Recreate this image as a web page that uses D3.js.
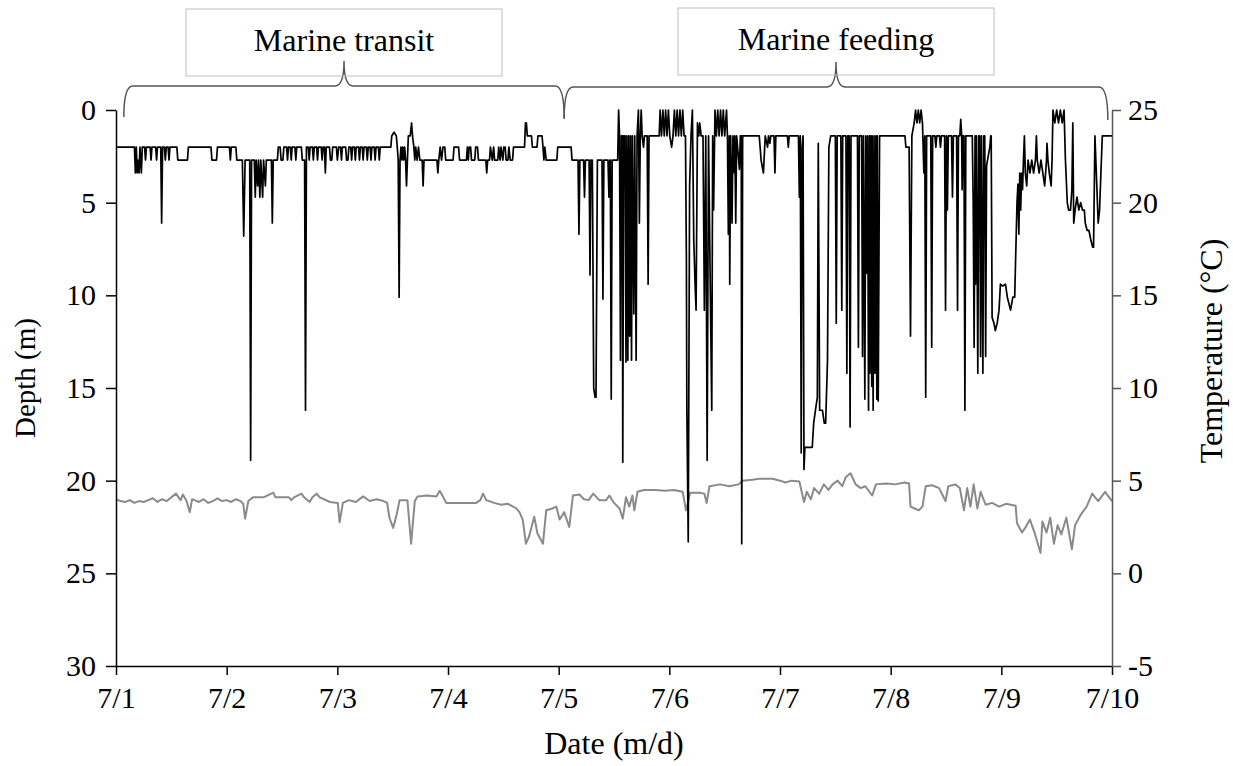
<!DOCTYPE html>
<html lang="en">
<head>
<meta charset="UTF-8">
<title>Depth and temperature, 7/1 - 7/10</title>
<script src="https://d3js.org/d3.v7.min.js"></script>
<style>
    body {
        margin: 0;
        background: white;
    }

    svg text {
        font-family: "Liberation Serif", "Times New Roman", serif;
        fill: #000;
    }

    .tick text {
        font-size: 30px;
    }

    .axis-label {
        font-size: 29px;
    }

    .phase-label {
        font-size: 32px;
    }
</style>
</head>
<body>
<svg id="chart" width="1233" height="766"></svg>
<script>
    // Hours since 7/1 00:00, and the labels of the daily ticks
    const dateTicks = [0, 24, 48, 72, 96, 120, 144, 168, 192, 216];
    const dateLabels = ["7/1", "7/2", "7/3", "7/4", "7/5", "7/6", "7/7", "7/8", "7/9", "7/10"];
    const depthTicks = [0, 5, 10, 15, 20, 25, 30];
    const tempTicks = [-5, 0, 5, 10, 15, 20, 25];

    // Behavioural phases: [label, start hour, end hour]
    const phases = [
        ["Marine transit", 1.7, 97.2],
        ["Marine feeding", 97.2, 215.1]
    ];

    // Swimming depth (m): [hour, depth]
    const depthSeries = [
        [0, 2.0], [4.0, 2.0], [4.2, 3.4], [4.4, 2.0], [4.6, 3.4], [4.8, 2.7], [5.0, 3.4], [5.2, 2.0], [5.5, 3.4], [5.7, 2.0],
        [6.2, 2.0], [6.4, 2.7], [6.6, 2.0], [7.4, 2.0], [7.6, 2.7], [7.8, 2.0], [8.6, 2.0], [8.8, 2.7], [9.0, 2.0],
        [9.7, 2.0], [9.9, 6.1], [10.1, 2.0], [10.5, 2.0], [10.7, 2.7], [10.9, 2.0], [11.3, 2.0], [11.5, 2.7], [11.7, 2.0],
        [13.2, 2.0], [13.4, 2.7], [15.5, 2.7], [15.7, 2.0], [20.6, 2.0], [20.8, 2.7], [21.8, 2.7], [22.0, 2.0],
        [24.6, 2.0], [24.8, 2.7], [25.0, 2.0], [26.0, 2.0], [26.2, 2.7], [27.4, 2.7], [27.7, 6.8], [28.0, 2.7],
        [29.0, 2.7], [29.2, 18.9], [29.4, 2.7], [30.0, 2.7], [30.2, 4.7], [30.4, 2.7], [30.7, 4.1], [30.9, 2.7],
        [31.2, 4.7], [31.4, 2.7], [31.8, 4.7], [32.0, 2.7], [32.4, 4.1], [32.6, 2.7], [33.7, 2.7], [33.9, 6.1], [34.1, 2.7],
        [35.0, 2.7], [35.2, 2.0], [35.6, 2.0], [35.8, 2.7], [36.2, 2.7], [36.4, 2.0], [37.0, 2.0], [37.2, 2.7], [37.4, 2.0],
        [37.8, 2.0], [38.0, 2.7], [38.2, 2.0], [38.8, 2.0], [39.0, 2.7], [39.2, 2.0], [40.2, 2.0], [40.4, 2.7], [40.9, 2.7],
        [41.1, 16.2], [41.3, 2.0], [41.7, 2.0], [41.9, 2.7], [42.1, 2.0], [42.6, 2.0], [42.8, 2.7], [43.0, 2.0],
        [43.5, 2.0], [43.7, 2.7], [43.9, 2.0], [44.5, 2.0], [44.7, 2.7], [44.9, 2.0], [45.2, 2.0], [45.4, 3.4], [45.6, 2.0],
        [46.3, 2.0], [46.5, 2.7], [46.8, 2.7], [47.0, 2.0], [47.8, 2.0], [48.0, 2.7], [48.3, 2.0], [48.7, 2.0], [48.9, 2.7],
        [49.1, 2.0], [49.8, 2.0], [50.0, 2.7], [50.3, 2.7], [50.5, 2.0], [50.9, 2.0], [51.1, 2.7], [51.3, 2.0], [51.7, 2.0],
        [51.9, 2.7], [52.1, 2.0], [52.6, 2.0], [52.8, 2.7], [53.0, 2.0], [53.4, 2.0], [53.6, 2.7], [53.8, 2.0], [54.3, 2.0],
        [54.5, 2.7], [54.7, 2.0], [55.1, 2.0], [55.3, 2.7], [55.5, 2.0], [56.0, 2.0], [56.2, 2.7], [56.4, 2.0], [56.9, 2.0],
        [57.1, 2.7], [57.3, 2.0], [59.6, 2.0], [59.8, 1.4], [60.3, 1.2], [60.8, 1.4], [61.0, 2.0], [61.2, 2.7], [61.4, 10.1],
        [61.6, 2.7], [61.8, 2.0], [62.0, 2.7], [62.2, 2.0], [62.4, 2.7], [62.6, 2.0], [62.8, 2.7], [63.0, 4.1], [63.2, 2.7],
        [63.4, 1.4], [63.8, 1.4], [64.1, 0.7], [64.3, 1.4], [64.6, 2.0], [64.8, 2.7], [65.0, 2.0], [65.3, 2.7], [65.6, 2.0],
        [65.9, 2.7], [66.4, 2.7], [66.6, 4.1], [66.8, 2.7], [69.6, 2.7], [69.8, 3.4], [70.0, 2.7], [70.3, 2.0], [70.6, 2.7],
        [70.9, 2.0], [71.3, 2.0], [71.5, 2.7], [73.1, 2.7], [73.3, 2.0], [74.3, 2.0], [74.5, 2.7], [76.0, 2.7], [76.2, 2.0],
        [76.4, 2.7], [76.6, 2.0], [76.9, 2.0], [77.1, 2.7], [77.8, 2.7], [78.0, 2.0], [78.4, 2.0], [78.6, 2.7], [80.2, 2.7],
        [80.4, 3.4], [80.6, 2.7], [81.0, 2.7], [81.2, 2.0], [81.6, 2.7], [81.9, 2.0], [82.1, 2.7], [82.8, 2.7], [83.0, 2.0],
        [83.3, 2.7], [83.5, 2.0], [83.9, 2.7], [84.1, 2.0], [84.4, 2.0], [84.6, 2.7], [85.0, 2.7], [85.2, 2.0], [85.5, 2.7],
        [86.0, 2.7], [86.2, 2.0], [88.6, 2.0], [88.8, 0.7], [89.0, 0.7], [89.2, 1.4], [90.1, 1.4], [90.3, 2.0], [91.3, 2.0],
        [91.5, 1.4], [92.4, 1.4], [92.6, 2.0], [92.8, 2.7], [93.0, 2.0], [93.3, 2.7], [95.6, 2.7], [95.8, 2.0], [98.7, 2.0],
        [98.9, 2.7], [100.2, 2.7], [100.4, 6.7], [100.6, 2.7], [101.4, 2.7], [101.6, 4.7], [101.8, 2.7], [102.6, 2.7],
        [102.8, 8.9], [103.0, 2.7], [103.3, 2.7], [103.6, 15.0], [103.9, 15.5], [104.1, 15.5], [104.4, 2.7], [105.4, 2.7],
        [105.6, 10.2], [105.8, 2.7], [106.7, 2.7], [106.9, 4.7], [107.1, 2.7], [107.2, 2.7], [107.4, 15.6], [107.6, 2.7],
        [108.8, 2.7], [109.0, 0], [109.2, 1.4], [109.4, 13.5], [109.6, 1.4], [109.8, 1.4], [109.9, 19.0], [110.1, 1.4],
        [110.4, 1.4], [110.6, 13.6], [110.8, 1.4], [111.0, 13.5], [111.2, 1.4], [111.4, 12.2], [111.6, 1.4], [111.8, 13.5],
        [112.0, 1.4], [112.3, 11.0], [112.5, 1.4], [112.8, 13.5], [113.0, 1.4], [113.3, 0], [113.5, 6.1], [113.7, 1.4],
        [113.9, 0], [114.1, 1.4], [114.4, 2.0], [114.6, 1.4], [115.2, 1.4], [115.4, 9.4], [115.6, 1.4], [117.8, 1.4],
        [118.0, 0], [118.3, 1.4], [118.6, 0], [118.9, 1.4], [119.2, 0], [119.5, 1.4], [119.8, 0], [120.1, 1.4], [120.5, 2.0],
        [120.8, 1.4], [121.1, 0], [121.4, 1.4], [121.7, 0], [122.0, 1.4], [122.3, 0], [122.6, 1.4], [122.9, 0], [123.2, 1.4],
        [123.5, 1.4], [123.7, 8.1], [123.8, 16.2], [124.1, 23.3], [124.4, 4.1], [124.7, 1.4], [125.0, 0], [125.3, 7.0],
        [125.6, 9.5], [125.8, 10.8], [126.1, 0.7], [126.4, 1.4], [126.6, 0.7], [126.9, 1.4], [127.3, 1.4], [127.6, 10.8],
        [127.9, 1.4], [128.2, 18.9], [128.5, 1.4], [128.9, 10.0], [129.2, 16.2], [129.4, 1.4], [129.6, 5.4], [129.9, 0],
        [130.2, 1.4], [130.5, 0], [130.8, 1.4], [131.1, 0], [131.4, 1.4], [131.7, 0], [132.0, 1.4], [132.4, 0], [132.6, 1.4],
        [132.8, 6.7], [133.0, 1.4], [133.1, 9.4], [133.3, 1.4], [133.6, 6.1], [133.8, 1.4], [134.1, 3.4], [134.2, 1.4],
        [134.4, 6.1], [134.6, 1.4], [135.2, 3.2], [135.4, 1.4], [135.6, 1.4], [135.7, 23.4], [135.9, 1.4], [139.5, 1.4],
        [139.9, 2.7], [140.4, 3.4], [140.8, 1.4], [141.3, 2.0], [141.5, 1.4], [141.8, 1.8], [142.0, 1.4], [142.7, 1.4],
        [142.9, 3.4], [143.1, 1.4], [145.6, 1.4], [145.8, 2.0], [146.0, 1.4], [148.0, 1.4], [148.2, 4.7], [148.4, 1.4],
        [148.6, 18.5], [148.8, 2.0], [149.0, 1.4], [149.2, 19.4], [149.4, 18.2], [151.0, 18.2], [151.3, 16.9], [151.8, 16.0],
        [152.1, 15.5], [152.3, 1.8], [152.6, 16.2], [153.2, 16.2], [153.6, 16.9], [153.9, 16.9], [154.3, 13.5], [154.6, 2.0],
        [155.0, 1.4], [156.0, 1.4], [156.2, 11.5], [156.4, 1.4], [157.2, 1.4], [157.4, 10.8], [157.6, 1.4], [158.3, 1.4],
        [158.5, 14.2], [158.7, 1.4], [159.0, 1.4], [159.2, 17.1], [159.4, 1.4], [160.8, 1.4], [161.0, 12.8], [161.2, 1.4],
        [161.7, 1.4], [161.9, 13.3], [162.1, 1.4], [162.4, 15.6], [162.6, 1.4], [162.8, 8.8], [163.0, 1.4], [163.2, 16.2],
        [163.4, 1.4], [163.5, 14.2], [163.7, 1.4], [163.9, 14.9], [164.0, 1.4], [164.2, 16.2], [164.4, 1.4], [164.6, 14.2],
        [164.8, 1.4], [165.0, 15.6], [165.1, 1.4], [165.3, 15.7], [165.6, 1.4], [171.1, 1.4], [171.3, 2.0], [172.0, 2.0],
        [172.3, 12.2], [172.6, 1.4], [173.1, 0.7], [173.4, 0], [173.7, 0.7], [174.0, 0], [174.3, 0.7], [174.6, 0], [174.9, 0.7],
        [175.2, 3.4], [175.4, 1.4], [175.6, 15.5], [175.8, 1.4], [176.7, 1.4], [176.9, 12.8], [177.1, 1.4], [177.6, 1.4],
        [177.8, 2.0], [178.0, 1.4], [178.6, 1.4], [178.8, 2.0], [179.0, 1.4], [179.7, 1.4], [179.9, 10.8], [180.1, 1.4],
        [180.3, 5.4], [180.5, 1.4], [181.2, 1.4], [181.4, 4.7], [181.6, 1.4], [182.3, 1.4], [182.5, 10.8], [182.7, 1.4],
        [183.0, 1.4], [183.2, 0.5], [183.4, 1.4], [183.5, 4.3], [183.7, 1.4], [183.9, 1.4], [184.1, 16.2], [184.3, 1.4],
        [185.7, 1.4], [185.9, 5.0], [186.1, 12.8], [186.3, 1.4], [186.4, 9.4], [186.6, 1.4], [186.9, 14.2], [187.1, 1.4],
        [187.3, 1.4], [187.5, 13.3], [187.7, 1.4], [188.0, 14.2], [188.2, 1.4], [188.4, 1.4], [188.6, 13.3], [188.8, 3.0],
        [189.5, 2.0], [189.7, 1.4], [189.8, 1.4], [190.0, 11.2], [190.4, 11.5], [190.7, 11.9], [191.1, 11.5], [191.5, 10.8],
        [191.8, 9.4], [192.3, 9.5], [192.9, 9.4], [193.3, 10.1], [194.0, 10.8], [194.5, 10.1], [194.9, 10.1], [195.1, 8.0],
        [195.4, 5.0], [195.6, 4.0], [195.8, 6.7], [196.0, 3.4], [196.2, 5.4], [196.4, 3.4], [196.6, 4.3], [196.8, 2.7],
        [197.0, 1.4], [197.2, 3.4], [197.5, 4.1], [197.8, 2.7], [198.2, 3.4], [198.6, 2.7], [199.0, 3.4], [199.4, 2.7],
        [199.6, 1.4], [199.8, 2.7], [200.2, 3.4], [200.6, 2.7], [201.0, 3.4], [201.4, 4.1], [201.8, 2.7], [201.9, 1.8],
        [202.1, 2.7], [202.4, 3.4], [202.8, 4.1], [203.0, 2.7], [203.2, 0], [203.6, 0.7], [204.0, 0], [204.4, 0.7], [204.8, 0],
        [205.2, 0.7], [205.6, 0], [205.9, 2.7], [206.3, 5.0], [206.6, 5.4], [207.0, 5.4], [207.3, 4.3], [207.5, 0.7],
        [207.7, 6.1], [208.0, 5.4], [208.4, 4.7], [208.8, 5.4], [209.2, 5.0], [209.6, 5.4], [210.0, 5.4], [210.2, 6.1],
        [210.6, 6.5], [211.0, 6.5], [211.4, 7.0], [211.8, 7.4], [212.0, 7.4], [212.3, 1.4], [212.6, 3.4], [213.0, 6.1],
        [213.3, 5.4], [213.7, 2.7], [213.9, 1.4], [216, 1.4]
    ];

    // Water temperature (°C): [hour, temperature]
    const tempSeries = [
        [0, 4.0], [1, 3.9], [2, 3.85], [3, 3.95], [4, 3.8], [5, 3.9], [6, 3.85], [7, 3.95], [8, 4.05], [9, 3.85],
        [10, 4.0], [11, 3.9], [12, 4.1], [13, 4.3], [14, 3.95], [14.5, 4.25], [15.3, 3.9], [16.0, 3.3], [16.5, 4.0],
        [17, 3.95], [18, 3.85], [19, 4.0], [20, 3.8], [21, 3.9], [22, 4.05], [23, 3.9], [24, 3.95], [25, 3.85], [26, 4.0],
        [27, 3.9], [27.6, 3.75], [28.0, 2.95], [28.7, 3.9], [29.7, 4.1], [32, 4.1], [34.1, 4.35], [34.6, 4.1], [37.5, 4.1],
        [38.0, 3.95], [38.6, 4.1], [40.2, 4.3], [40.8, 4.1], [42.0, 3.85], [42.6, 4.1], [43.5, 4.3], [44.2, 4.1],
        [46.4, 3.85], [48.1, 3.8], [48.5, 2.75], [49.2, 3.8], [50.5, 3.95], [52.0, 3.85], [53.6, 4.15], [55.0, 3.9],
        [56.5, 4.0], [58.0, 3.9], [58.8, 3.8], [59.3, 3.0], [60.1, 2.45], [60.8, 3.1], [61.5, 3.95], [63.2, 3.95],
        [64.0, 1.6], [64.8, 3.9], [65.4, 4.15], [67.5, 4.2], [69.5, 4.15], [70.2, 4.45], [71.0, 4.1], [71.6, 3.8],
        [78.1, 3.8], [79.0, 3.95], [79.6, 4.3], [80.3, 3.95], [82.0, 3.8], [83.5, 3.7], [85.0, 3.75], [86.8, 3.5],
        [87.5, 3.3], [88.2, 2.9], [88.9, 1.6], [89.6, 2.0], [90.7, 3.05], [91.4, 2.15], [92.6, 1.6], [93.3, 3.4],
        [94.6, 3.5], [95.5, 3.6], [96.2, 2.9], [97.2, 3.3], [98.3, 2.5], [99.1, 4.2], [100.5, 4.25], [101.5, 4.0],
        [102.5, 3.95], [103.5, 4.3], [104.8, 3.95], [106.3, 3.95], [107.0, 4.2], [108.0, 3.8], [109.2, 3.5],
        [109.9, 2.95], [110.6, 4.1], [111.3, 3.6], [112.0, 4.2], [112.4, 3.4], [113.1, 4.4], [114.5, 4.5], [117.0, 4.5],
        [119.0, 4.45], [121.0, 4.5], [122.9, 4.4], [123.6, 3.4], [124.0, 3.8], [124.5, 4.35], [126.5, 4.35], [127.6, 4.3],
        [128.1, 3.8], [128.7, 4.7], [131.0, 4.8], [133.0, 4.7], [135.0, 4.8], [135.9, 5.0], [138.0, 5.05], [139.5, 5.1],
        [142.4, 5.1], [144.0, 5.0], [145.2, 4.9], [146.5, 5.0], [148.2, 4.95], [149.2, 3.85], [149.8, 4.4], [150.7, 4.0],
        [151.4, 4.6], [152.5, 4.3], [153.5, 4.8], [154.5, 4.5], [155.4, 4.8], [156.5, 5.0], [157.5, 4.7], [158.3, 5.2],
        [159.3, 5.4], [160.4, 4.8], [161.5, 4.6], [162.5, 4.7], [164.0, 4.2], [164.8, 4.8], [167.0, 4.85], [169.0, 4.8],
        [171.0, 4.9], [172.0, 4.85], [172.3, 3.6], [173.2, 3.5], [174.1, 3.4], [174.9, 3.6], [175.6, 4.7], [177.0, 4.75],
        [178.5, 4.6], [179.9, 3.9], [180.5, 4.7], [182.0, 4.8], [183.0, 4.6], [183.9, 3.4], [184.6, 4.6], [185.3, 3.6],
        [186.0, 4.8], [186.8, 3.5], [187.5, 4.4], [188.6, 3.7], [190.0, 3.8], [191.5, 3.6], [193.0, 3.75], [195.1, 3.65],
        [195.4, 2.7], [196.5, 2.2], [197.3, 2.5], [198.2, 2.9], [199.2, 2.2], [200.5, 1.1], [200.9, 2.8], [201.8, 2.2],
        [202.6, 3.0], [203.4, 1.6], [204.2, 2.6], [205.0, 2.1], [206.1, 3.0], [207.3, 1.3], [208.0, 2.6], [209.3, 3.2],
        [210.5, 3.6], [211.7, 4.3], [213.0, 3.9], [214.5, 4.4], [216, 3.9]
    ];

    const svg = d3.select("#chart");
    const margin = { top: 110, right: 121, bottom: 100, left: 116 };
    const W = +svg.attr("width"), H = +svg.attr("height");

    const x = d3.scaleLinear().domain([0, 216]).range([margin.left, W - margin.right]);
    const yDepth = d3.scaleLinear().domain([0, 30]).range([margin.top, H - margin.bottom]);
    const yTemp = d3.scaleLinear().domain([-5, 25]).range([H - margin.bottom, margin.top]);

    // temperature trace (drawn first, depth sits on top)
    svg.append("path")
        .datum(tempSeries)
        .attr("fill", "none")
        .attr("stroke", "#8a8a8a")
        .attr("stroke-width", 2)
        .attr("stroke-linejoin", "round")
        .attr("d", d3.line().x(d => x(d[0])).y(d => yTemp(d[1])));

    svg.append("path")
        .datum(depthSeries)
        .attr("fill", "none")
        .attr("stroke", "#000")
        .attr("stroke-width", 1.7)
        .attr("stroke-linejoin", "round")
        .attr("d", d3.line().x(d => x(d[0])).y(d => yDepth(d[1])));

    // axes
    const xAxis = svg.append("g")
        .attr("transform", `translate(0,${H - margin.bottom})`)
        .call(d3.axisBottom(x).tickValues(dateTicks).tickFormat((d, i) => dateLabels[i])
            .tickSize(9).tickSizeOuter(0).tickPadding(12));

    const leftAxis = svg.append("g")
        .attr("transform", `translate(${margin.left},0)`)
        .call(d3.axisLeft(yDepth).tickValues(depthTicks).tickSize(10).tickSizeOuter(0).tickPadding(10));

    // plain hyphen for negative values
    const rightAxis = svg.append("g")
        .attr("transform", `translate(${W - margin.right},0)`)
        .call(d3.axisRight(yTemp).tickValues(tempTicks).tickFormat(d => String(d))
            .tickSize(9).tickSizeOuter(0).tickPadding(7));

    [xAxis, leftAxis].forEach(a => {
        a.selectAll("path, line").attr("stroke", "#000").attr("stroke-width", 1.5);
    });
    rightAxis.selectAll("path, line").attr("stroke", "#555").attr("stroke-width", 1.5);
    svg.selectAll(".tick text").attr("fill", "#000");

    // axis titles
    svg.append("text")
        .attr("class", "axis-label")
        .attr("x", (margin.left + W - margin.right) / 2)
        .attr("y", 754)
        .attr("text-anchor", "middle")
        .style("font-size", "32px")
        .text("Date (m/d)");

    svg.append("text")
        .attr("class", "axis-label")
        .attr("transform", "translate(35,378) rotate(-90)")
        .attr("text-anchor", "middle")
        .text("Depth (m)");

    svg.append("text")
        .attr("class", "axis-label")
        .attr("transform", "translate(1222,351) rotate(-90)")
        .attr("text-anchor", "middle")
        .style("font-size", "32px")
        .text("Temperature (°C)");

    // phase braces with their labelled boxes
    const braceY = [86, 87];
    phases.forEach((p, i) => {
        const x0 = x(p[1]), x1 = x(p[2]), xm = (x0 + x1) / 2, by = braceY[i];
        const r = 9;
        const brace = `M${x0},${by + 31} Q${x0},${by} ${x0 + r},${by} L${xm - r},${by} ` +
            `Q${xm},${by} ${xm},${by - 25} Q${xm},${by} ${xm + r},${by} ` +
            `L${x1 - r},${by} Q${x1},${by} ${x1},${by + 33}`;
        svg.append("path")
            .attr("d", brace)
            .attr("fill", "none")
            .attr("stroke", "#555")
            .attr("stroke-width", 1.5);

        const bw = 316, bh = 67;
        svg.append("rect")
            .attr("x", xm - bw / 2)
            .attr("y", 9 - i)
            .attr("width", bw)
            .attr("height", bh)
            .attr("fill", "none")
            .attr("stroke", "#bfbfbf")
            .attr("stroke-width", 1);

        svg.append("text")
            .attr("class", "phase-label")
            .attr("x", xm)
            .attr("y", 51 - i)
            .attr("text-anchor", "middle")
            .text(p[0]);
    });
</script>
</body>
</html>
